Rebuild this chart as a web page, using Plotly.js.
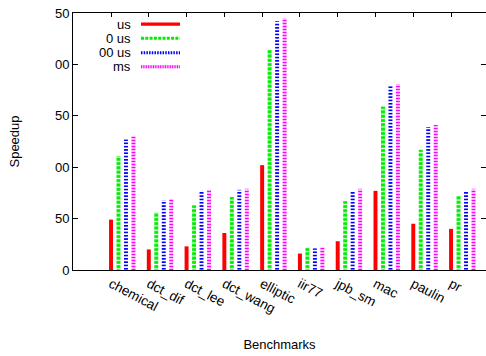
<!DOCTYPE html>
<html>
<head>
<meta charset="utf-8">
<script src="https://cdn.plot.ly/plotly-3.0.1.min.js"></script>
<style>
html,body{margin:0;padding:0;background:#fff;}
#chart{width:486px;height:356px;}
</style>
</head>
<body>
<div id="chart"></div>
<script>
// ---- data ----
const categories = ['chemical','dct_dif','dct_lee','dct_wang','elliptic','iir77','jpb_sm','mac','paulin','pr'];
const seriesNames = ['us','0 us','00 us','ms'];
const usVals    = [49, 20, 23, 36, 102, 16, 28, 77, 45, 40];
const us10Vals  = [111, 56, 63, 71, 215, 22, 67, 159, 117, 72];
const us100Vals = [127, 68, 77, 78, 242, 21, 76, 180, 139, 76];
const msVals    = [130, 69, 78, 79, 245, 22, 79, 181, 141, 79];
const yTickVals = [0, 50, 100, 150, 200, 250];
const yTickText = ['0', '50', '00', '50', '00', '50'];

// ---- styles ----
const FONT = 'Liberation Sans, Arial, Helvetica, sans-serif';
const barW = 0.105, step = 0.198;
const styles = [
  {color:'#ff0000', pattern:null},
  {color:'#00ee00', pattern:{shape:'-', fillmode:'replace', bgcolor:'#00ee00', fgcolor:'#ffffff', size:4.3, solidity:0.28}},
  {color:'#0000ff', pattern:{shape:'-', fillmode:'replace', bgcolor:'#ffffff', fgcolor:'#0000ff', size:3.3, solidity:0.5}},
  {color:'#ff00ff', pattern:{shape:'-', fillmode:'replace', bgcolor:'#ffb0ff', fgcolor:'#ff00ff', size:3, solidity:0.35}}
];
const seriesVals = [usVals, us10Vals, us100Vals, msVals];

const traces = seriesVals.map((vals, k) => {
  const m = {color: styles[k].color, line:{width:0}};
  if (styles[k].pattern) m.pattern = styles[k].pattern;
  return {
    type:'bar', x:categories, y:vals, name:seriesNames[k],
    width:barW, offset:k*step - barW/2, marker:m, showlegend:false,
    hoverinfo:'skip'
  };
});

// legend built from series names (text right-aligned, sample to the right)
const legY = [0.957, 0.9016, 0.8455, 0.7911];
const annotations = seriesNames.map((n, k) => ({
  text:n, xref:'paper', yref:'paper', x:0.1453, y:legY[k],
  xanchor:'right', yanchor:'middle', showarrow:false,
  font:{family:FONT, size:13, color:'#000'}
}));
const sx0 = 0.1646, sx1 = 0.2591;
const shapes = [
  {type:'line', xref:'paper', yref:'paper', x0:sx0, x1:sx1, y0:legY[0], y1:legY[0], line:{color:'#ff0000', width:3.3}},
  {type:'line', xref:'paper', yref:'paper', x0:sx0, x1:sx1, y0:legY[1], y1:legY[1], line:{color:'#00ee00', width:3, dash:'3px,1.3px'}},
  {type:'line', xref:'paper', yref:'paper', x0:sx0, x1:sx1, y0:legY[2], y1:legY[2], line:{color:'#0000ff', width:3, dash:'1.5px,1.2px'}},
  {type:'line', xref:'paper', yref:'paper', x0:sx0, x1:sx1, y0:legY[3], y1:legY[3], line:{color:'#ffb0ff', width:3}},
  {type:'line', xref:'paper', yref:'paper', x0:sx0, x1:sx1, y0:legY[3], y1:legY[3], line:{color:'#ff00ff', width:3, dash:'1px,1.4px'}}
];

const layout = {
  width:486, height:356,
  margin:{l:73, r:0, t:13, b:86, pad:0},
  paper_bgcolor:'#fff', plot_bgcolor:'#fff',
  barmode:'overlay',
  showlegend:false,
  font:{family:FONT, size:13, color:'#000'},
  xaxis:{
    type:'category', range:[-1.006, 9.925],
    showline:true, linecolor:'#000', linewidth:1, mirror:'ticks',
    ticks:'inside', ticklen:4, tickcolor:'#000',
    tickangle:28, showgrid:false, zeroline:false, layer:'below traces',
    tickfont:{family:FONT, size:13.5, color:'#000'},
    title:{text:'Benchmarks', font:{family:FONT, size:13, color:'#000'}, standoff:24},
    automargin:false
  },
  yaxis:{
    range:[0,250], tickvals:yTickVals, ticktext:yTickText,
    showline:true, linecolor:'#000', linewidth:1, mirror:'ticks',
    ticks:'inside', ticklen:5, tickcolor:'#000',
    showgrid:false, zeroline:false,
    tickfont:{family:FONT, size:13, color:'#000'},
    title:{text:'Speedup', font:{family:FONT, size:13, color:'#000'}, standoff:32},
    automargin:false
  },
  annotations:annotations,
  shapes:shapes
};

Plotly.newPlot('chart', traces, layout, {displayModeBar:false, staticPlot:true});
</script>
</body>
</html>
